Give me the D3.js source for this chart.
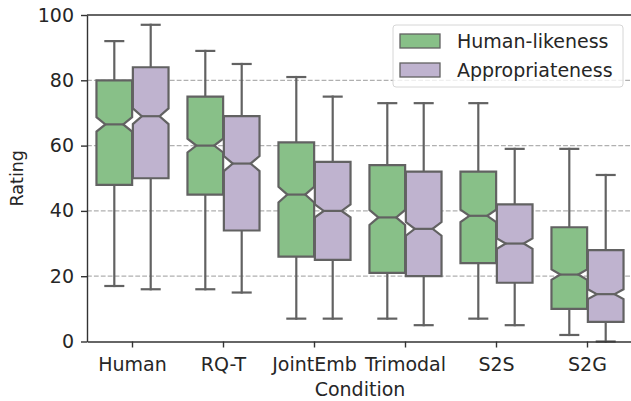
<!DOCTYPE html>
<html>
<head>
<meta charset="utf-8">
<style>
	body { margin: 0; background: white; }
	text { font-family: "DejaVu Sans", sans-serif; fill: #262626; }
</style>
</head>
<body>
<svg width="631" height="401"></svg>
<script src="https://cdn.jsdelivr.net/npm/d3@7"></script>
<script>

var conditions = ['Human', 'RQ-T', 'JointEmb', 'Trimodal', 'S2S', 'S2G']
var seriesNames = ['Human-likeness', 'Appropriateness']
var yTicks = [0, 20, 40, 60, 80, 100]

// whisker low, q1, median, q3, whisker high, notch half-height
var hlLow = [17, 16, 7, 7, 7, 2]
var hlQ1 = [48, 45, 26, 21, 24, 10]
var hlMed = [66.5, 60, 45, 38, 38.5, 20.5]
var hlQ3 = [80, 75, 61, 54, 52, 35]
var hlHigh = [92, 89, 81, 73, 73, 59]
var hlNotch = [2.2, 2.1, 2.4, 2.3, 1.9, 1.6]

var apLow = [16, 15, 7, 5, 5, 0]
var apQ1 = [50, 34, 25, 20, 18, 6]
var apMed = [69, 54.5, 40, 34.5, 30, 14.5]
var apQ3 = [84, 69, 55, 52, 42, 28]
var apHigh = [97, 85, 75, 73, 59, 51]
var apNotch = [2.4, 2.3, 2.0, 2.1, 1.6, 1.5]

var colors = ['#88c088', '#bfb3cf'],
	gray = '#626262',
	lw = 2.2

var plotL = 87, plotR = 633, plotT = 15, plotB = 341.5

var svg = d3.select('svg')

var x = d3.scaleBand().domain(conditions).range([plotL, plotR]).padding(0)
var y = d3.scaleLinear().domain([0, 100]).range([plotB, plotT])

function makeBoxes(s, lo, q1, med, q3, hi, notch) {
	return conditions.map(function(c, i) {
		return {cond: c, s: s, lo: lo[i], q1: q1[i], med: med[i], q3: q3[i], hi: hi[i], notch: notch[i]}
	})
}

var boxes = makeBoxes(0, hlLow, hlQ1, hlMed, hlQ3, hlHigh, hlNotch)
	.concat(makeBoxes(1, apLow, apQ1, apMed, apQ3, apHigh, apNotch))

// grid
svg.append('g').selectAll('line')
	.data(yTicks.filter(function(t) { return t > 0 && t < 100 }))
	.enter().append('line')
	.attr('x1', plotL).attr('x2', plotR)
	.attr('y1', function(d) { return y(d) }).attr('y2', function(d) { return y(d) })
	.style('stroke', '#b0b0b0')
	.style('stroke-width', 1.3)
	.style('stroke-dasharray', '4.8,2.1')

function boxCenter(d) {
	var bw = x.bandwidth()
	return x(d.cond) + bw / 2 + (d.s == 0 ? -0.2 : 0.2) * bw
}

var boxW = x.bandwidth() * 0.392

var g = svg.append('g').selectAll('g').data(boxes).enter().append('g')

// whiskers
g.append('line')
	.attr('x1', boxCenter).attr('x2', boxCenter)
	.attr('y1', function(d) { return y(d.q3) }).attr('y2', function(d) { return y(d.hi) })
g.append('line')
	.attr('x1', boxCenter).attr('x2', boxCenter)
	.attr('y1', function(d) { return y(d.q1) }).attr('y2', function(d) { return y(d.lo) })
// caps
g.append('line')
	.attr('x1', function(d) { return boxCenter(d) - boxW / 4 }).attr('x2', function(d) { return boxCenter(d) + boxW / 4 })
	.attr('y1', function(d) { return y(d.hi) }).attr('y2', function(d) { return y(d.hi) })
g.append('line')
	.attr('x1', function(d) { return boxCenter(d) - boxW / 4 }).attr('x2', function(d) { return boxCenter(d) + boxW / 4 })
	.attr('y1', function(d) { return y(d.lo) }).attr('y2', function(d) { return y(d.lo) })

g.selectAll('line')
	.style('stroke', gray)
	.style('stroke-width', lw)
	.style('stroke-linecap', 'square')

// notched box
g.append('path')
	.attr('d', function(d) {
		var c = boxCenter(d), l = c - boxW / 2, r = c + boxW / 2, cl = c - boxW / 4, cr = c + boxW / 4
		var pts = [[l, d.q1], [r, d.q1], [r, d.med - d.notch], [cr, d.med], [r, d.med + d.notch], [r, d.q3],
			[l, d.q3], [l, d.med + d.notch], [cl, d.med], [l, d.med - d.notch]]
		return d3.line()(pts.map(function(p) { return [p[0], y(p[1])] })) + 'Z'
	})
	.style('fill', function(d) { return colors[d.s] })
	.style('stroke', gray)
	.style('stroke-width', lw)
	.style('stroke-linejoin', 'miter')

// median
g.append('line')
	.attr('x1', function(d) { return boxCenter(d) - boxW / 4 }).attr('x2', function(d) { return boxCenter(d) + boxW / 4 })
	.attr('y1', function(d) { return y(d.med) }).attr('y2', function(d) { return y(d.med) })
	.style('stroke', gray)
	.style('stroke-width', lw)

// axes
svg.append('g')
	.attr('transform', 'translate(' + plotL + ',0)')
	.call(d3.axisLeft(y).tickValues(yTicks).tickSize(6).tickSizeOuter(0).tickPadding(7))
svg.append('g')
	.attr('transform', 'translate(0,' + plotB + ')')
	.call(d3.axisBottom(x).tickSize(6).tickSizeOuter(0).tickPadding(10))

svg.selectAll('.domain, .tick line').style('stroke', '#333').style('stroke-width', 1.4)
svg.selectAll('.tick text').style('font-size', '19px').style('fill', '#262626')
	.style('font-family', '"DejaVu Sans", sans-serif')

svg.append('line').attr('x1', plotL).attr('x2', plotR).attr('y1', plotT).attr('y2', plotT)
	.style('stroke', '#333').style('stroke-width', 1.4)
svg.append('line').attr('x1', plotR).attr('x2', plotR).attr('y1', plotT).attr('y2', plotB)
	.style('stroke', '#333').style('stroke-width', 1.4)

svg.append('text')
	.attr('transform', 'translate(23,' + (plotT + plotB) / 2 + ') rotate(-90)')
	.attr('text-anchor', 'middle')
	.style('font-size', '17.5px')
	.text('Rating')

svg.append('text')
	.attr('x', (plotL + plotR) / 2).attr('y', 396)
	.attr('text-anchor', 'middle')
	.style('font-size', '19px')
	.text('Condition')

// legend
var leg = svg.append('g')
leg.append('rect')
	.attr('x', 393).attr('y', 25).attr('width', 230).attr('height', 62).attr('rx', 3)
	.style('fill', 'white').style('fill-opacity', 0.8)
	.style('stroke', '#d6d6d6').style('stroke-width', 1)

seriesNames.forEach(function(name, i) {
	leg.append('rect')
		.attr('x', 400).attr('y', 34 + i * 29).attr('width', 40).attr('height', 14)
		.style('fill', colors[i]).style('stroke', gray).style('stroke-width', 1.3)
	leg.append('text')
		.attr('x', 457).attr('y', 47.5 + i * 29)
		.style('font-size', '19px')
		.text(name)
})

</script>
</body>
</html>
